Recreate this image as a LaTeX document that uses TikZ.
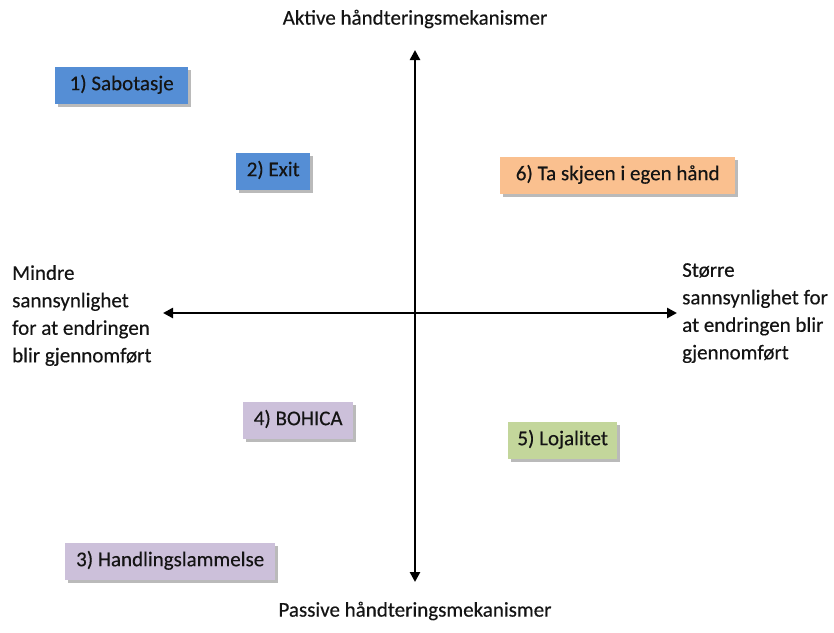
\documentclass[tikz,border=0pt]{standalone}
\usepackage{fontspec}
\setmainfont{Carlito}
\newfontfamily\heavy{Carlito}[FakeBold=0.35]
\usetikzlibrary{shadows,arrows.meta}
\definecolor{boxblue}{RGB}{85,142,213}
\definecolor{boxorange}{RGB}{250,192,143}
\definecolor{boxpurple}{RGB}{204,192,218}
\definecolor{boxgreen}{RGB}{195,214,155}
\definecolor{ink}{RGB}{20,20,20}
\tikzset{
  catbox/.style={anchor=north west, inner sep=0pt, minimum height=37pt,
    text height=14pt, text depth=5pt, text=ink, font=\heavy\fontsize{21}{25}\selectfont,
    drop shadow={shadow xshift=2.5pt, shadow yshift=-3pt, opacity=0.45, fill=black!60}},
  axis/.style={line width=2.6pt, -{Triangle[length=10pt,width=10pt]}},
  lbl/.style={font=\heavy\fontsize{21}{27.5}\selectfont, inner sep=0pt, text=ink},
}
\begin{document}
\begin{tikzpicture}[x=1pt,y=-1pt]
\useasboundingbox (0,0) rectangle (834,632);
% quadrant boxes
\node[catbox, fill=boxblue, minimum width=133pt] (sab) at (55,67) {1) Sabotasje};
\node[catbox, fill=boxblue, minimum width=74pt] (exit) at (236,153) {2) Exit};
\node[catbox, fill=boxorange, minimum width=235pt] (hand) at (500,157) {6) Ta skjeen i egen hånd};
\node[catbox, fill=boxpurple, minimum width=110pt] (boh) at (243,402) {4) BOHICA};
\node[catbox, fill=boxgreen, minimum width=109pt] (loj) at (508,422) {5) Lojalitet};
\node[catbox, fill=boxpurple, minimum width=210pt] (lam) at (65,543) {3) Handlingslammelse};
% axes
\coordinate (c) at (415,313);
\coordinate (top) at (415,50);
\coordinate (bot) at (415,582);
\coordinate (lft) at (163,313);
\coordinate (rgt) at (677,313);
\draw[axis] (c) -- (top);
\draw[axis] (c) -- (bot);
\draw[axis] (c) -- (lft);
\draw[axis] (c) -- (rgt);
% axis labels
\node[lbl] (act) at (415,19) {Aktive håndteringsmekanismer};
\node[lbl] (pas) at (415,611) {Passive håndteringsmekanismer};
\node[lbl, anchor=north west, align=left] (less) at (12,265) {Mindre\\sannsynlighet\\for at endringen\\blir gjennomført};
\node[lbl, anchor=north west, align=left] (more) at (682,263) {Større\\sannsynlighet for\\at endringen blir\\gjennomført};
\end{tikzpicture}
\end{document}
